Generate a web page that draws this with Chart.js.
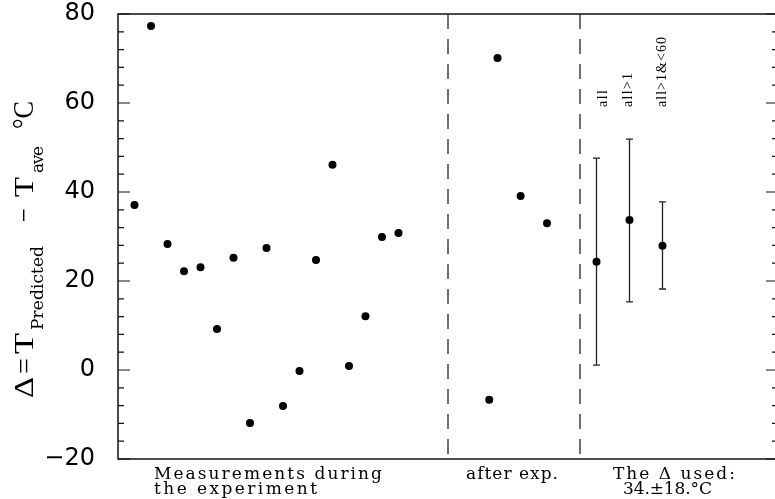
<!DOCTYPE html>
<html>
<head>
<meta charset="utf-8">
<script src="https://cdn.jsdelivr.net/npm/chart.js@4.4.1/dist/chart.umd.min.js"></script>
<style>
  html, body { margin: 0; padding: 0; background: #fff; overflow: hidden; }
  canvas { display: block; }
</style>
</head>
<body>
<canvas id="grafica" width="778" height="499"></canvas>
<script>
// Valores
const duranteX = [1, 2, 3, 4, 5, 6, 7, 8, 9, 10, 11, 12, 13, 14, 15, 16, 17];
const duranteY = [37.1, 77.3, 28.3, 22.2, 23.1, 9.2, 25.2, -11.9, 27.4, -8.1, -0.2, 24.7, 46.1, 0.9, 12.1, 29.9, 30.8];
const despuesX = [22.5, 23, 24.4, 26];
const despuesY = [-6.7, 70.1, 39.1, 33.0];
const resumenEtiquetas = ['all', 'all>1', 'all>1&<60'];
const resumenX = [29, 31, 33];
const resumenY = [24.3, 33.7, 27.9];
const resumenMin = [1.1, 15.3, 18.2];
const resumenMax = [47.6, 51.9, 37.8];
const separadoresX = [20, 28];
const ticksY = [-20, 0, 20, 40, 60, 80];
const textosAbajo = ['Measurements during', 'the experiment', 'after exp.', 'The \u0394 used:', '34.\u00b118.\u00b0C'];

// Texto con espaciado ajustado para ocupar un ancho dado
function textoAjustado(ctx, txt, x, y, ancho) {
    ctx.letterSpacing = '0px';
    const w = ctx.measureText(txt).width;
    const ls = txt.length > 1 ? (ancho - w) / (txt.length - 1) : 0;
    ctx.letterSpacing = ls + 'px';
    ctx.textAlign = 'left';
    ctx.fillText(txt, x, y);
    ctx.letterSpacing = '0px';
}

// Texto estirado horizontalmente hasta un ancho dado
function textoEstirado(ctx, txt, x, y, ancho) {
    const w = ctx.measureText(txt).width;
    ctx.save();
    ctx.translate(x, y);
    ctx.scale(ancho / w, 1);
    ctx.textAlign = 'left';
    ctx.fillText(txt, 0, 0);
    ctx.restore();
}

const puntos = (xs, ys) => xs.map((v, i) => ({ x: v, y: ys[i] }));

const datasetsSeparadores = separadoresX.map(v => ({
    type: 'line',
    data: [{ x: v, y: 80 }, { x: v, y: -20 }],
    borderColor: '#222',
    borderWidth: 1.3,
    borderDash: [15, 10],
    pointRadius: 0,
    fill: false
}));

// Barras de error, marco, ticks internos y textos
const extras = {
    id: 'extras',
    beforeDatasetsDraw(chart) {
        const { ctx, scales: { x, y } } = chart;
        ctx.save();
        ctx.strokeStyle = '#222';
        ctx.lineWidth = 1.3;
        resumenX.forEach((v, i) => {
            const px = x.getPixelForValue(v);
            const y1 = y.getPixelForValue(resumenMin[i]);
            const y2 = y.getPixelForValue(resumenMax[i]);
            ctx.beginPath();
            ctx.moveTo(px, y1); ctx.lineTo(px, y2);
            ctx.moveTo(px - 3.5, y1); ctx.lineTo(px + 3.5, y1);
            ctx.moveTo(px - 3.5, y2); ctx.lineTo(px + 3.5, y2);
            ctx.stroke();
        });
        ctx.restore();
    },
    afterDraw(chart) {
        const { ctx, chartArea: a, scales: { x, y } } = chart;
        ctx.save();
        ctx.strokeStyle = '#111';
        ctx.lineWidth = 1.5;
        ctx.strokeRect(a.left, a.top, a.right - a.left, a.bottom - a.top);

        ctx.lineWidth = 1.2;
        y.ticks.forEach(t => {
            const py = y.getPixelForValue(t.value);
            const largo = ticksY.includes(t.value) ? 12 : 6;
            ctx.beginPath();
            ctx.moveTo(a.left, py); ctx.lineTo(a.left + largo, py);
            ctx.moveTo(a.right, py); ctx.lineTo(a.right - largo, py);
            ctx.stroke();
        });

        ctx.fillStyle = '#000';
        ctx.textBaseline = 'alphabetic';

        // textos bajo el eje
        ctx.font = '17px "DejaVu Serif"';
        textoAjustado(ctx, textosAbajo[0], 154, 479, 228);
        textoAjustado(ctx, textosAbajo[1], 154, 494, 163);
        textoAjustado(ctx, textosAbajo[2], 466, 479, 92);
        textoAjustado(ctx, textosAbajo[3], 613, 479, 122);
        textoAjustado(ctx, textosAbajo[4], 623, 494, 89);

        // etiquetas verticales de las barras
        ctx.font = '14px "Liberation Serif"';
        const desp = [10, 2, 3];
        const anchos = [17, 34, 70];
        resumenEtiquetas.forEach((txt, i) => {
            const px = x.getPixelForValue(resumenX[i]) + desp[i];
            ctx.save();
            ctx.translate(px, 107);
            ctx.rotate(-Math.PI / 2);
            textoAjustado(ctx, txt, 0, 0, anchos[i]);
            ctx.restore();
        });

        // título del eje Y
        ctx.rotate(-Math.PI / 2);
        ctx.font = '28px "Liberation Serif"';
        textoEstirado(ctx, '\u0394', -398, 33, 21);
        textoEstirado(ctx, '=', -374, 33, 16);
        textoEstirado(ctx, 'T', -354, 33, 21);
        textoEstirado(ctx, '\u2212', -222, 33, 14);
        textoEstirado(ctx, 'T', -197, 33, 20);
        ctx.font = '29px "Liberation Serif"';
        textoEstirado(ctx, '\u00b0C', -129, 33, 28);
        ctx.font = '17px "DejaVu Serif"';
        textoAjustado(ctx, 'Predicted', -330, 43, 84);
        textoAjustado(ctx, 'ave', -173, 43, 27);
        ctx.restore();
    }
};

const ctxGrafica = document.getElementById('grafica').getContext('2d');

new Chart(ctxGrafica, {
    type: 'scatter',
    data: {
        datasets: [
            ...datasetsSeparadores,
            { data: puntos(duranteX, duranteY), backgroundColor: '#000', borderWidth: 0, pointRadius: 4 },
            { data: puntos(despuesX, despuesY), backgroundColor: '#000', borderWidth: 0, pointRadius: 4 },
            { data: puntos(resumenX, resumenY), backgroundColor: '#000', borderWidth: 0, pointRadius: 4 }
        ]
    },
    options: {
        responsive: false,
        animation: false,
        devicePixelRatio: 1,
        layout: { autoPadding: false, padding: { top: 14, bottom: 40, left: 0, right: 0 } },
        plugins: { legend: { display: false }, tooltip: { enabled: false } },
        scales: {
            x: { type: 'linear', min: 0, max: 40, display: false },
            y: {
                min: -20,
                max: 80,
                grid: { display: false, drawTicks: false },
                border: { display: false },
                afterFit: s => { s.width = 118; s.paddingTop = 0; s.paddingBottom = 0; },
                ticks: {
                    stepSize: 4,
                    autoSkip: false,
                    padding: 23,
                    color: '#000',
                    font: { family: 'DejaVu Sans', size: 24, lineHeight: 1 },
                    callback: v => ticksY.includes(v) ? (v < 0 ? '\u2212' + Math.abs(v) : String(v)) : ''
                }
            }
        }
    },
    plugins: [extras]
});
</script>
</body>
</html>
